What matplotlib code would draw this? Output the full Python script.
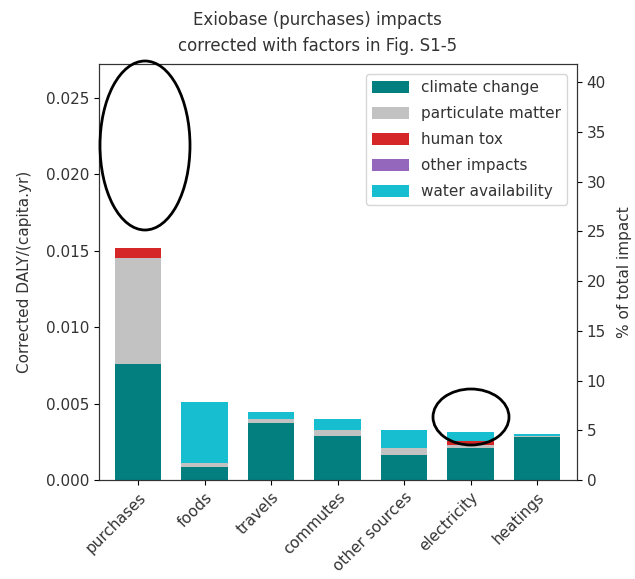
import matplotlib.pyplot as plt
from matplotlib.patches import Ellipse
import numpy as np

categories = ['purchases', 'foods', 'travels', 'commutes', 'other sources', 'electricity', 'heatings']
climate = [0.0076, 0.00087, 0.00375, 0.00288, 0.00164, 0.00207, 0.00284]
particulate = [0.0069, 0.00026, 0.00022, 0.00037, 0.00043, 0.00022, 0.00003]
human_tox = [0.0007, 0.0, 0.0, 0.0, 0.0, 0.00026, 0.0]
other = [0.0, 0.0, 0.0, 0.0, 0.0, 0.0, 0.0]
water = [0.0, 0.0040, 0.00046, 0.00074, 0.0012, 0.00061, 0.00014]
total_impact = 0.0651

series = [('climate change', climate, '#037f7f'),
          ('particulate matter', particulate, '#c2c2c2'),
          ('human tox', human_tox, '#d62728'),
          ('other impacts', other, '#9467bd'),
          ('water availability', water, '#17becf')]

txt = '#333333'
plt.rcParams['text.color'] = txt
plt.rcParams['axes.labelcolor'] = txt
plt.rcParams['xtick.labelcolor'] = txt
plt.rcParams['ytick.labelcolor'] = txt
plt.rcParams['axes.edgecolor'] = '#333333'

fig = plt.figure(figsize=(6.35, 5.79), dpi=100)
ax = fig.add_axes([99 / 635, 1 - 480 / 579, 478 / 635, 416 / 579])

x = np.arange(len(categories))
bottom = np.zeros(len(categories))
for name, vals, col in series:
    ax.bar(x, vals, 0.7, bottom=bottom, color=col, label=name)
    bottom += np.array(vals)

ax.set_xlim(-0.59, 6.6)
ax.set_ylim(0, 0.02723)
ax.set_yticks([0, 0.005, 0.010, 0.015, 0.020, 0.025])
ax.set_yticklabels(['0.000', '0.005', '0.010', '0.015', '0.020', '0.025'])
ax.set_xticks(x)
ax.set_xticklabels(categories, rotation=45, ha='right', rotation_mode='anchor')
ax.tick_params(labelsize=11)
ax.set_ylabel('Corrected DALY/(capita.yr)', fontsize=11, labelpad=10)
ax.legend(loc='upper right', fontsize=11, labelspacing=0.72, handlelength=2.4,
          handleheight=0.8, borderaxespad=0.65)

fig.text(0.5, 1 - 20 / 579, 'Exiobase (purchases) impacts', ha='center', va='center', fontsize=12)
fig.text(0.5, 1 - 46 / 579, 'corrected with factors in Fig. S1-5', ha='center', va='center', fontsize=12)

ax2 = ax.twinx()
ax2.set_ylim(0, 0.02723 / total_impact * 100)
ax2.set_yticks(np.arange(0, 41, 5))
ax2.tick_params(labelsize=11)
ax2.set_ylabel('% of total impact', fontsize=11, labelpad=8)

# hand-drawn highlight ellipses
fig.patches.append(Ellipse((145 / 635, 1 - 145.5 / 579), 90 / 635, 169 / 579,
                           transform=fig.transFigure, fill=False, lw=2, ec='black'))
fig.patches.append(Ellipse((471 / 635, 1 - 417 / 579), 76 / 635, 56 / 579,
                           transform=fig.transFigure, fill=False, lw=2, ec='black'))

fig.savefig('out.png', dpi=100)
